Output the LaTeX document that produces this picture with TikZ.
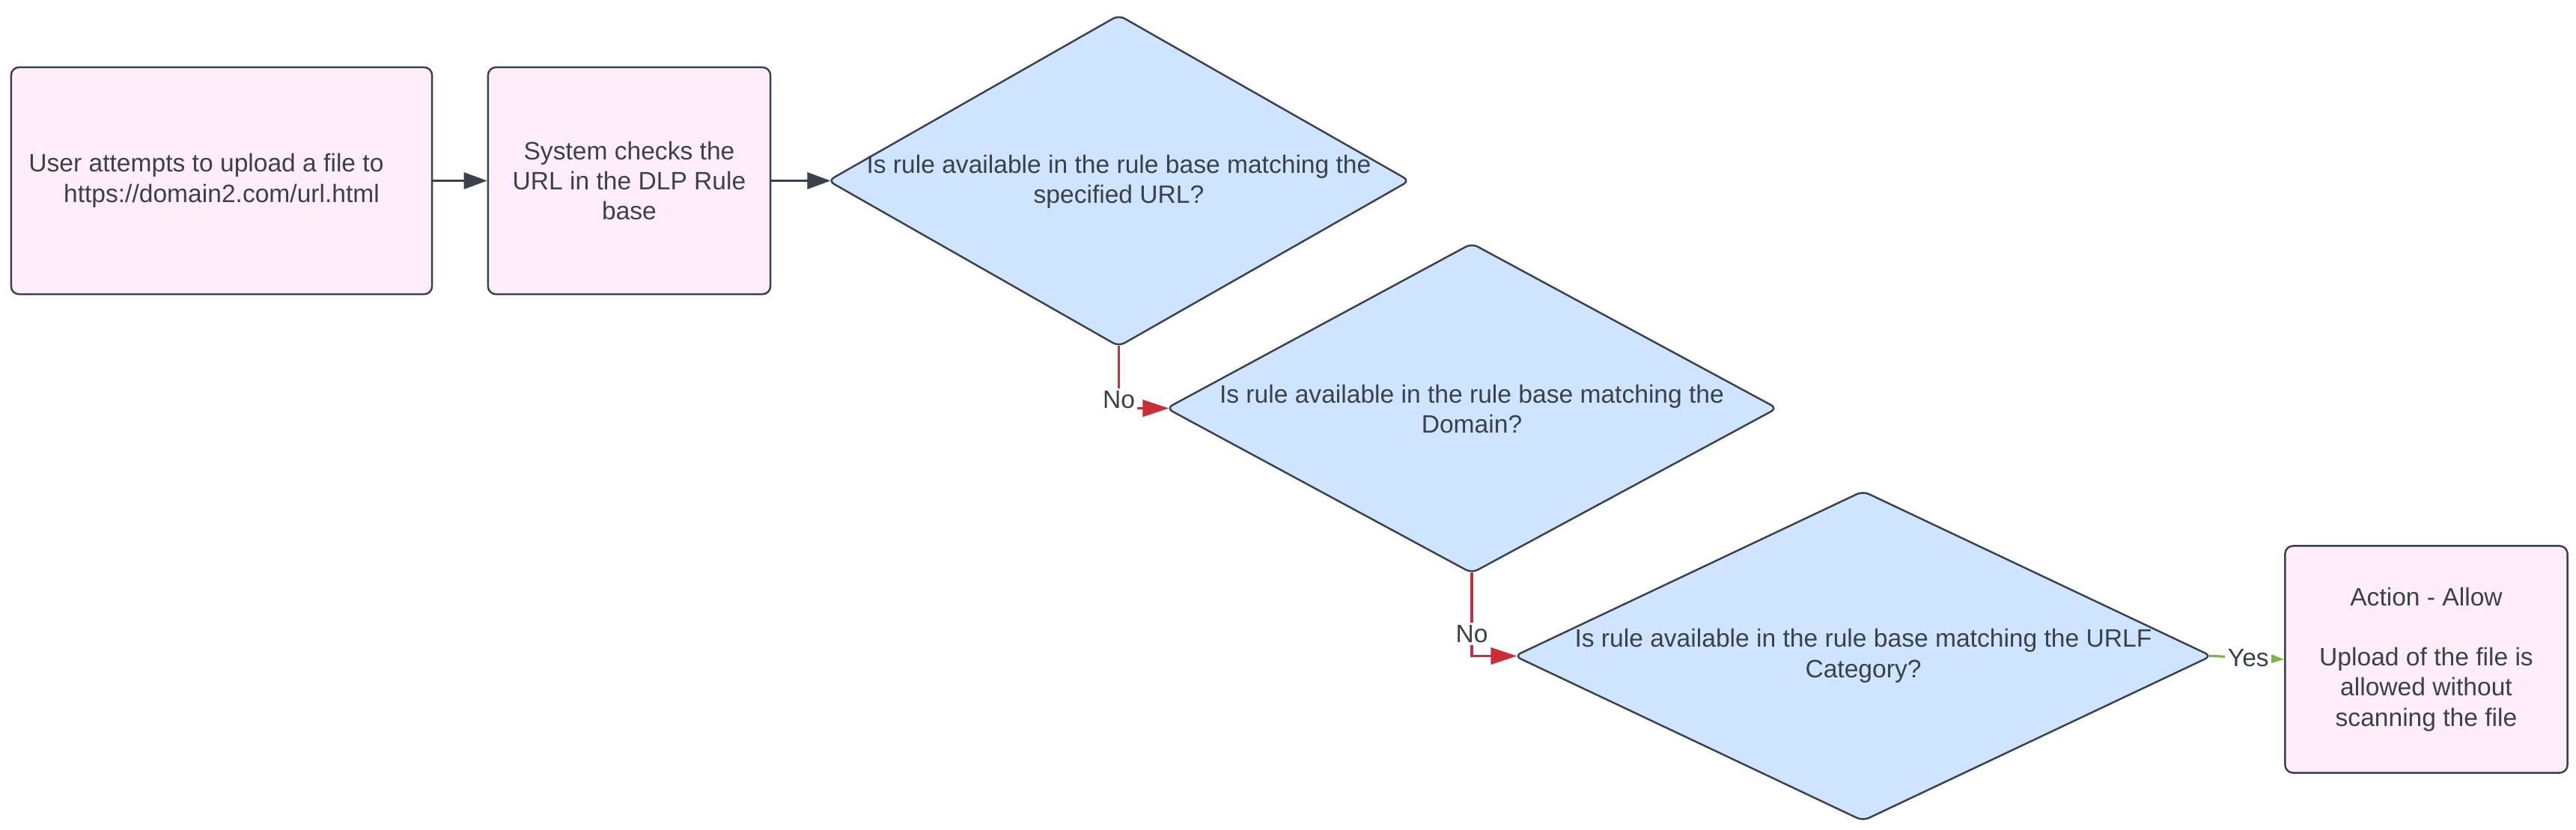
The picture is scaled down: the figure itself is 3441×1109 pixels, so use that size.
\documentclass[tikz,border=0pt]{standalone}
\usepackage{fontspec}
\setmainfont{Liberation Sans}
\usetikzlibrary{shapes.geometric, arrows.meta}
\definecolor{boxpink}{RGB}{255,238,250}
\definecolor{qblue}{RGB}{207,228,255}
\definecolor{edgegray}{RGB}{58,65,74}
\definecolor{noRed}{RGB}{201,45,57}
\definecolor{yesGreen}{RGB}{122,182,72}
\begin{document}
\begin{tikzpicture}[x=0.01cm, y=-0.01cm, text=edgegray,
  font=\fontsize{9.55pt}{11.5pt}\selectfont,
  stepbox/.style={rectangle, draw=edgegray, fill=boxpink, line width=0.7pt, rounded corners=3pt, minimum height=3.03cm, align=center, inner sep=0pt},
  query/.style={diamond, draw=edgegray, fill=qblue, line width=0.7pt, rounded corners=2.5pt, inner sep=0pt},
  flow/.style={draw=edgegray, line width=0.85pt, -{Triangle[length=0.31cm, width=0.22cm]}},
  noflow/.style={draw=noRed, line width=1.1pt, -{Triangle[length=0.35cm, width=0.22cm]}, shorten <=-0.7pt, shorten >=-1.4pt},
  yesflow/.style={draw=yesGreen, line width=0.9pt, -{Triangle[length=0.23cm, width=0.15cm]}, shorten <=-1.4pt},
  edgelabel/.style={fill=white, inner sep=1pt}]
\useasboundingbox (0,0) rectangle (3441,1109);
\node[stepbox, minimum width=5.62cm] (user) at (296, 241.5) {User attempts to upload a file to\hspace*{0.41cm}\\https://domain2.com/url.html};
\node[stepbox, minimum width=3.77cm] (check) at (840.5, 241.5) {System checks the\\URL in the DLP Rule\\base};
\node[query, minimum width=7.77cm, minimum height=4.43cm] (url) at (1494.5, 241.5) {};
\node[query, minimum width=8.16cm, minimum height=4.41cm] (domain) at (1966, 545.5) {};
\node[query, minimum width=9.31cm, minimum height=4.41cm] (categ) at (2488.5, 876.5) {};
\node[stepbox, minimum width=3.77cm] (allow) at (3241, 881) {Action - Allow\\[0.4cm]Upload of the file is\\allowed without\\scanning the file};
\node[align=center] (urltext) at (1494.5, 243) {Is rule available in the rule base matching the\\specified URL?};
\node[align=center] (domaintext) at (1966, 546.5) {Is rule available in the rule base matching the\\Domain?};
\node[align=center] (categtext) at (2489, 876.5) {Is rule available in the rule base matching the URLF\\Category?};
\draw[flow] (user) -- (check);
\draw[flow, shorten >=-1.4pt] (check) -- (url.west);
\draw[noflow] (url.south) |- node[edgelabel, pos=0.5, anchor=base] (no1) {No} (domain.west);
\draw[noflow] (domain.south) |- node[edgelabel, pos=0.5, anchor=base, yshift=0.18cm] (no2) {No} (categ.west);
\draw[yesflow] (categ.east) -- node[edgelabel, pos=0.5] (yes) {Yes} (allow.west);
\end{tikzpicture}
\end{document}
